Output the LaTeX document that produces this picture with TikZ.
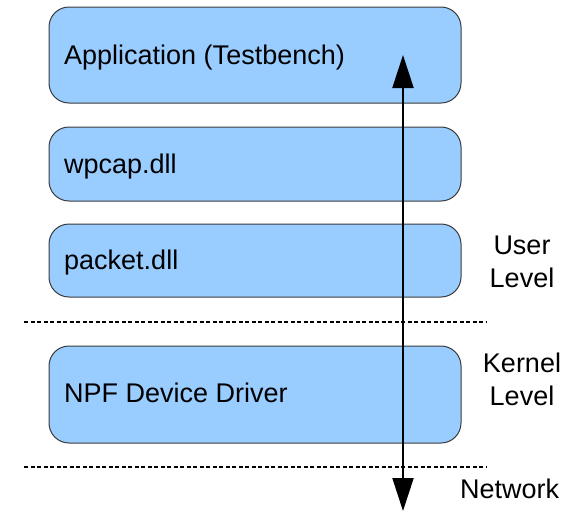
\documentclass[tikz,border=0pt]{standalone}
\usepackage{fontspec}
\setmainfont{Liberation Sans}
\usetikzlibrary{arrows.meta}
\definecolor{layerfill}{HTML}{99CCFF}
\definecolor{layeredge}{HTML}{3A3A3A}
\begin{document}
\begin{tikzpicture}[x=1pt,y=-1pt,
  layer/.style={draw=layeredge, line width=1pt, fill=layerfill,
    rounded corners=20pt, minimum width=412pt, inner sep=0pt},
  layertext/.style={anchor=base west, inner sep=0pt,
    font=\fontsize{27}{32}\selectfont},
  sidetext/.style={align=center, inner sep=0pt,
    font=\fontsize{27}{33}\selectfont},
  boundary/.style={line width=1.5pt, dash pattern=on 4pt off 2.5pt},
  flow/.style={line width=2pt, {Triangle[length=33pt,width=21pt]}-{Triangle[length=33pt,width=21pt]}}]
  \useasboundingbox (0,0) rectangle (565,512);

  % software layers
  \node[layer, minimum height=96pt] (app) at (255,55) {};
  \node[layer, minimum height=74pt] (wpcap) at (255,164) {};
  \node[layer, minimum height=73pt] (packet) at (255,260.5) {};
  \node[layer, minimum height=97pt] (npf) at (255,394.5) {};

  \node[layertext] (apptxt) at (64,64) {Application (Testbench)};
  \node[layertext] (wpcaptxt) at (64,173) {wpcap.dll};
  \node[layertext] (packettxt) at (64,269) {packet.dll};
  \node[layertext] (npftxt) at (64,402) {NPF Device Driver};

  % user/kernel and kernel/network boundaries
  \coordinate (ukl) at (24,322);
  \coordinate (ukr) at (487,322);
  \coordinate (knl) at (24,467);
  \coordinate (knr) at (487,467);
  \draw[boundary] (ukl) -- (ukr);
  \draw[boundary] (knl) -- (knr);

  % level labels
  \node[sidetext] (user) at (522,262) {User\\Level};
  \node[sidetext] (kernel) at (522,379) {Kernel\\Level};
  \node[layertext] (net) at (460,498) {Network};

  % data path through the stack
  \coordinate (ptop) at (403,55);
  \coordinate (pbot) at (403,511);
  \draw[flow] (ptop) -- (pbot);
\end{tikzpicture}
\end{document}
